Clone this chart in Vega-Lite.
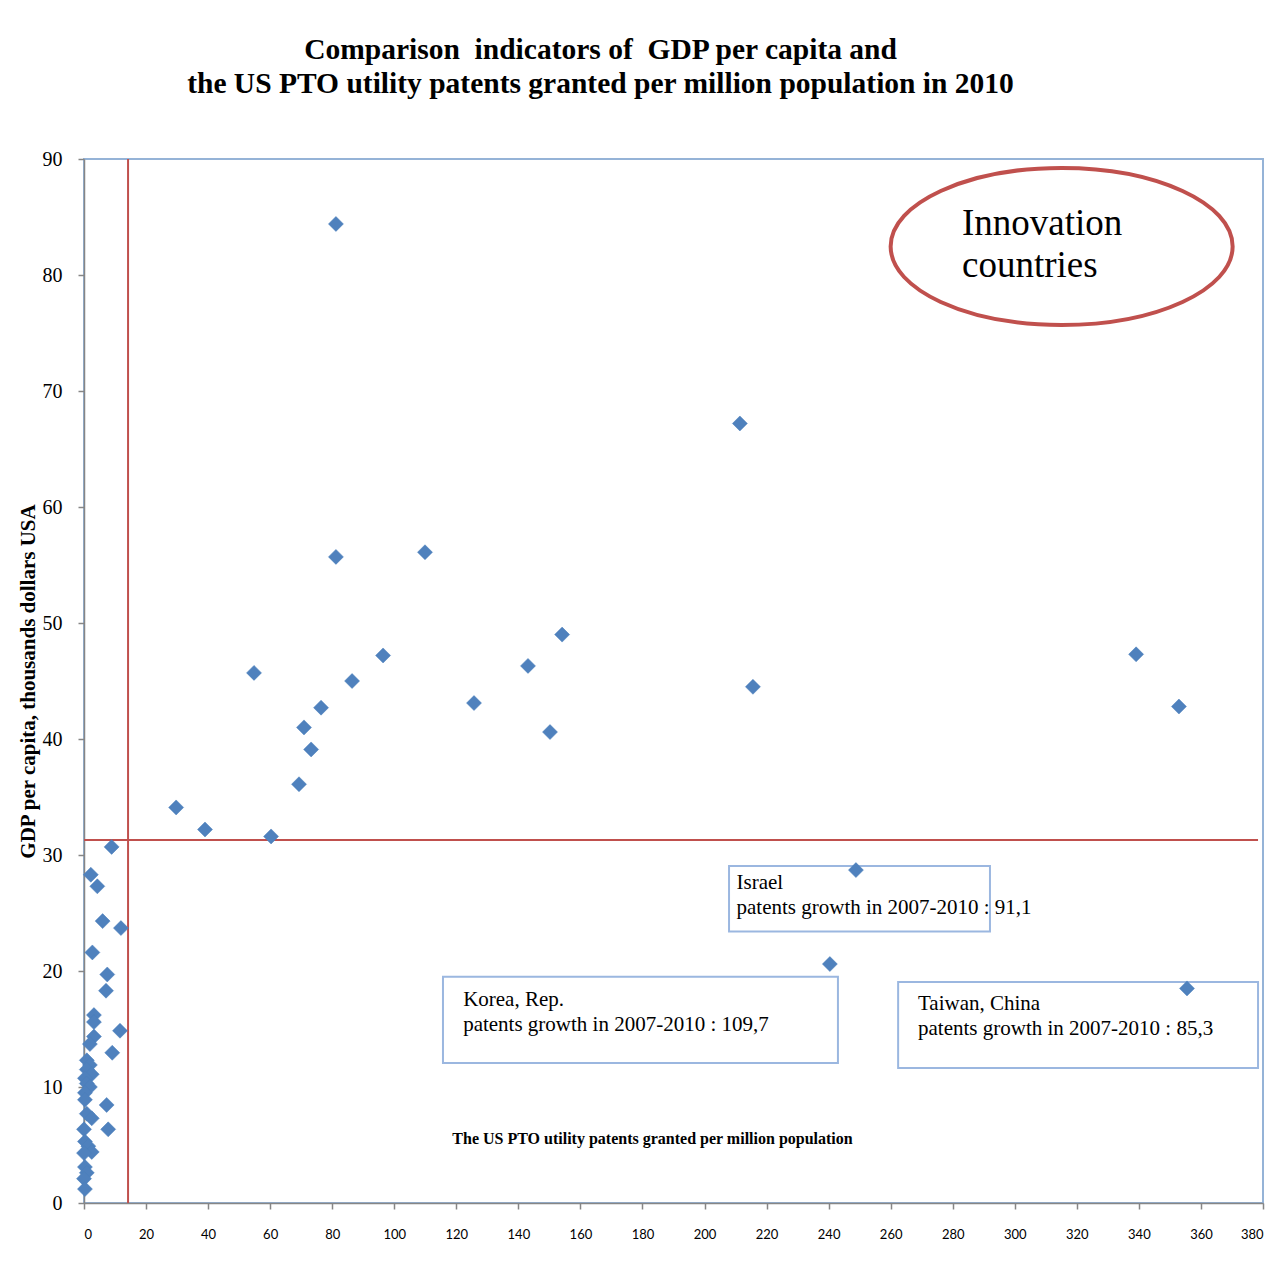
{
  "$schema": "https://vega.github.io/schema/vega-lite/v6.json",
  "width": 1179,
  "height": 1044,
  "autosize": "none",
  "padding": {"left": 84, "top": 159, "right": 22, "bottom": 66},
  "background": "white",
  "title": {
    "text": ["Comparison \u00a0indicators of \u00a0GDP per capita and", "the US PTO utility patents granted per million population in 2010"],
    "font": "Liberation Serif",
    "fontSize": 29.5,
    "fontWeight": "bold",
    "color": "black",
    "anchor": "middle",
    "frame": "group",
    "baseline": "bottom",
    "lineHeight": 34,
    "offset": 21,
    "dx": -73
  },
  "config": {
    "view": {"stroke": "#95b3d7", "strokeWidth": 2}
  },
  "datasets": {
    "points": [
      {"x": 81.2, "y": 84.4}, {"x": 211.4, "y": 67.2}, {"x": 81.2, "y": 55.7}, {"x": 109.9, "y": 56.1},
      {"x": 154.1, "y": 49.0}, {"x": 96.4, "y": 47.2}, {"x": 143.1, "y": 46.3}, {"x": 54.8, "y": 45.7},
      {"x": 86.4, "y": 45.0}, {"x": 339.1, "y": 47.3}, {"x": 352.9, "y": 42.8}, {"x": 215.6, "y": 44.5},
      {"x": 125.7, "y": 43.1}, {"x": 76.4, "y": 42.7}, {"x": 70.9, "y": 41.0}, {"x": 150.2, "y": 40.6},
      {"x": 73.2, "y": 39.1}, {"x": 69.3, "y": 36.1}, {"x": 29.7, "y": 34.1}, {"x": 39.0, "y": 32.2},
      {"x": 60.3, "y": 31.6}, {"x": 248.8, "y": 28.7}, {"x": 240.4, "y": 20.6}, {"x": 355.5, "y": 18.5},
      {"x": 8.9, "y": 30.7}, {"x": 2.2, "y": 28.3}, {"x": 4.3, "y": 27.3}, {"x": 6.0, "y": 24.3},
      {"x": 11.9, "y": 23.7}, {"x": 2.7, "y": 21.6}, {"x": 7.5, "y": 19.7}, {"x": 7.1, "y": 18.3},
      {"x": 3.2, "y": 16.2}, {"x": 3.2, "y": 15.6}, {"x": 11.6, "y": 14.85}, {"x": 3.2, "y": 14.35},
      {"x": 1.9, "y": 13.7}, {"x": 9.1, "y": 12.95}, {"x": 0.9, "y": 12.3}, {"x": 1.9, "y": 11.9},
      {"x": 0.9, "y": 11.5}, {"x": 2.5, "y": 11.1}, {"x": 0.3, "y": 10.75}, {"x": 0.9, "y": 10.3},
      {"x": 1.9, "y": 10.0}, {"x": 0.3, "y": 9.5}, {"x": 0.3, "y": 8.9}, {"x": 7.3, "y": 8.45},
      {"x": 0.9, "y": 7.7}, {"x": 2.5, "y": 7.3}, {"x": 7.8, "y": 6.35}, {"x": 0.0, "y": 6.35},
      {"x": 0.3, "y": 5.3}, {"x": 1.4, "y": 4.9}, {"x": 2.5, "y": 4.4}, {"x": 0.0, "y": 4.3},
      {"x": 0.3, "y": 3.1}, {"x": 0.9, "y": 2.6}, {"x": 0.0, "y": 2.1}, {"x": 0.3, "y": 1.2}
    ],
    "boxes": [
      {"x": 207.9, "x2": 292.0, "y": 29.05, "y2": 23.4},
      {"x": 115.7, "x2": 243.0, "y": 19.5, "y2": 12.07},
      {"x": 262.4, "x2": 378.4, "y": 19.05, "y2": 11.64}
    ],
    "boxlabels": [
      {"x": 210.3, "y": 27.6, "label": "Israel"},
      {"x": 210.3, "y": 25.4, "label": "patents growth in 2007-2010 : 91,1"},
      {"x": 122.2, "y": 17.5, "label": "Korea, Rep."},
      {"x": 122.2, "y": 15.35, "label": "patents growth in 2007-2010 : 109,7"},
      {"x": 268.8, "y": 17.16, "label": "Taiwan, China"},
      {"x": 268.8, "y": 15.0, "label": "patents growth in 2007-2010 : 85,3"}
    ],
    "refs": [
      {"x": 14.2, "x2": 14.2, "y": 0, "y2": 90},
      {"x": 0, "x2": 378.4, "y": 31.3, "y2": 31.3}
    ],
    "oval": [{"x": 315.1, "y": 82.46}],
    "ovallabels": [
      {"x": 283.0, "y": 84.4, "label": "Innovation"},
      {"x": 283.0, "y": 80.8, "label": "countries"}
    ]
  },
  "encoding": {
    "x": {
      "field": "x",
      "type": "quantitative",
      "scale": {"domain": [0, 380], "nice": false, "zero": false},
      "axis": {
        "values": [0, 20, 40, 60, 80, 100, 120, 140, 160, 180, 200, 220, 240, 260, 280, 300, 320, 340, 360, 380],
        "grid": false,
        "domainColor": "#868686",
        "domainWidth": 1.5,
        "tickColor": "#868686",
        "tickWidth": 1.5,
        "tickSize": 6,
        "labelFont": "Lato",
        "labelFontSize": 13,
        "labelColor": "black",
        "labelPadding": 19,
        "title": "The US PTO utility patents granted per million population",
        "titleFont": "Liberation Serif",
        "titleFontSize": 16,
        "titleFontWeight": "bold",
        "titleColor": "black",
        "titleX": 568,
        "titleY": -65,
        "titleBaseline": "middle",
        "titleAlign": "center"
      }
    },
    "y": {
      "field": "y",
      "type": "quantitative",
      "scale": {"domain": [0, 90], "nice": false, "zero": false},
      "axis": {
        "values": [0, 10, 20, 30, 40, 50, 60, 70, 80, 90],
        "grid": false,
        "domainColor": "#868686",
        "domainWidth": 1.5,
        "tickColor": "#868686",
        "tickWidth": 1.5,
        "tickSize": 6,
        "labelFont": "Liberation Serif",
        "labelFontSize": 20,
        "labelColor": "black",
        "labelPadding": 16,
        "title": "GDP per capita, thousands dollars USA",
        "titleFont": "Liberation Serif",
        "titleFontSize": 21,
        "titleFontWeight": "bold",
        "titleColor": "black",
        "titleAngle": -90,
        "titleX": -56,
        "titleY": 522,
        "titleBaseline": "middle",
        "titleAlign": "center"
      }
    }
  },
  "layer": [
    {
      "data": {"name": "boxes"},
      "mark": {"type": "rect", "fill": "white", "stroke": "#9bb7e0", "strokeWidth": 2},
      "encoding": {"x2": {"field": "x2"}, "y2": {"field": "y2"}}
    },
    {
      "data": {"name": "boxlabels"},
      "mark": {"type": "text", "font": "Liberation Serif", "fontSize": 21, "align": "left", "baseline": "middle", "color": "black"},
      "encoding": {"text": {"field": "label"}}
    },
    {
      "data": {"name": "refs"},
      "mark": {"type": "rule", "color": "#c0504d", "strokeWidth": 2},
      "encoding": {"x2": {"field": "x2"}, "y2": {"field": "y2"}}
    },
    {
      "data": {"name": "points"},
      "mark": {"type": "point", "shape": "diamond", "filled": true, "size": 225, "color": "#4f81bd", "opacity": 1, "stroke": "#4a7ebb", "strokeWidth": 0.5}
    },
    {
      "data": {"name": "oval"},
      "mark": {
        "type": "point",
        "shape": "M -1 0 C -1 -0.2535 -0.5523 -0.459 0 -0.459 C 0.5523 -0.459 1 -0.2535 1 0 C 1 0.2535 0.5523 0.459 0 0.459 C -0.5523 0.459 -1 0.2535 -1 0 Z",
        "size": 116964,
        "filled": false,
        "stroke": "#c0504d",
        "strokeWidth": 4,
        "opacity": 1
      }
    },
    {
      "data": {"name": "ovallabels"},
      "mark": {"type": "text", "font": "Liberation Serif", "fontSize": 37, "align": "left", "baseline": "middle", "color": "black"},
      "encoding": {"text": {"field": "label"}}
    }
  ]
}
